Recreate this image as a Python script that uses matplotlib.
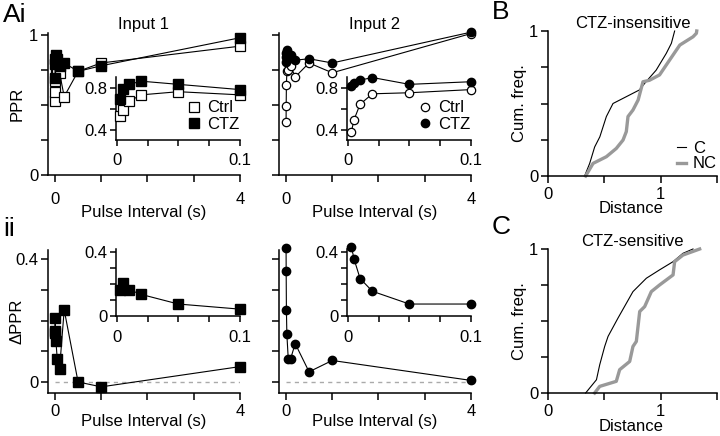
import matplotlib
matplotlib.use("Agg")
import matplotlib.pyplot as plt

plt.rcParams['font.family'] = ['Liberation Sans', 'DejaVu Sans']
plt.rcParams['font.size'] = 12

# pulse intervals (s)
intervals = [0.003, 0.005, 0.01, 0.02, 0.05, 0.1, 0.2, 0.5, 1, 4]

# input 1 (squares)
ppr1_ctrl = [0.53, 0.59, 0.67, 0.73, 0.76, 0.73, 0.56, 0.74, 0.80, 0.92]
ppr1_ctz = [0.69, 0.79, 0.83, 0.86, 0.83, 0.78, 0.80, 0.74, 0.78, 0.98]
dppr1 = [0.16, 0.21, 0.165, 0.135, 0.075, 0.043, 0.235, 0.0, -0.016, 0.05]

# input 2 (circles)
ppr2_ctrl = [0.38, 0.49, 0.64, 0.74, 0.75, 0.78, 0.70, 0.80, 0.73, 1.01]
ppr2_ctz = [0.81, 0.84, 0.87, 0.895, 0.83, 0.855, 0.82, 0.83, 0.80, 1.02]
dppr2 = [0.435, 0.36, 0.235, 0.155, 0.075, 0.075, 0.125, 0.033, 0.07, 0.005]

# cumulative distributions of distance
b_c_x = [0.325, 0.37, 0.414, 0.46, 0.518, 0.577, 0.695, 0.81, 0.87, 0.96, 1.05, 1.095, 1.124]
b_c_y = [0, 0.087, 0.2, 0.27, 0.41, 0.5, 0.547, 0.593, 0.65, 0.73, 0.846, 0.915, 1.0]
b_nc_x = [0.334, 0.4, 0.518, 0.606, 0.666, 0.695, 0.71, 0.754, 0.8, 0.843, 0.9, 0.99, 1.05,
          1.14, 1.17, 1.287, 1.317, 1.32]
b_nc_y = [0, 0.087, 0.133, 0.19, 0.248, 0.306, 0.41, 0.455, 0.524, 0.65, 0.66, 0.697, 0.766,
          0.869, 0.903, 0.96, 0.984, 1.0]
c_c_x = [0.334, 0.43, 0.459, 0.503, 0.533, 0.621, 0.754, 0.873, 0.99, 1.11, 1.198, 1.287]
c_c_y = [0, 0.092, 0.196, 0.323, 0.393, 0.52, 0.704, 0.797, 0.855, 0.912, 0.97, 1.0]
c_nc_x = [0.414, 0.459, 0.606, 0.636, 0.725, 0.754, 0.784, 0.814, 0.858, 0.917, 0.99, 1.11,
          1.124, 1.198, 1.346]
c_nc_y = [0, 0.046, 0.081, 0.162, 0.219, 0.323, 0.358, 0.566, 0.6, 0.704, 0.75, 0.82,
          0.912, 0.958, 1.0]

W, H = 720, 436
fig = plt.figure(figsize=(W / 100, H / 100), dpi=100)


def rect(l, t, r, b):
    return [l / W, 1 - b / H, (r - l) / W, (b - t) / H]


def style(ax, xpad=6, length=5):
    for s in ('top', 'right'):
        ax.spines[s].set_visible(False)
    for s in ('left', 'bottom'):
        ax.spines[s].set_linewidth(1.1)
    ax.tick_params(direction='out', length=length, width=1.1, labelsize=12)
    ax.tick_params(axis='x', pad=xpad)
    ax.tick_params(axis='y', pad=2)
    ax.patch.set_alpha(0)


def main_ppr(ax, ctrl, ctz, marker, ms, labels):
    ax.plot(intervals, ctrl, '-', color='k', lw=0.8, marker=marker, ms=ms,
            mfc='white', mec='k', mew=0.9, clip_on=False, zorder=3)
    ax.plot(intervals, ctz, '-', color='k', lw=0.8, marker=marker, ms=ms,
            mfc='k', mec='k', clip_on=False, zorder=4)
    ax.set_xlim(-0.15, 4)
    ax.set_ylim(0, 1.014)
    ax.set_xticks([0, 1, 2, 3, 4], ['0', '', '', '', '4'])
    ax.set_yticks([0, 0.25, 0.5, 0.75, 1],
                  ['0', '', '', '', '1'] if labels else [''] * 5)
    style(ax, xpad=7)
    ax.set_xlabel('Pulse Interval (s)')
    ax.xaxis.set_label_coords(0.5, -0.21)


def inset_ppr(ax, ctrl, ctz, marker, ms):
    n = 6
    ax.plot(intervals[:n], ctrl[:n], '-', color='k', lw=0.8, marker=marker, ms=ms,
            mfc='white', mec='k', mew=0.9, clip_on=False, zorder=3, label='Ctrl')
    ax.plot(intervals[:n], ctz[:n], '-', color='k', lw=0.8, marker=marker, ms=ms,
            mfc='k', mec='k', clip_on=False, zorder=4, label='CTZ')
    ax.set_xlim(-0.0006, 0.1)
    ax.set_ylim(0.3, 0.9)
    ax.set_xticks([0, 0.025, 0.05, 0.075, 0.1], ['0', '', '', '', '0.1'])
    ax.set_yticks([0.4, 0.6, 0.8], ['0.4', '', '0.8'])
    style(ax, xpad=5.5, length=4)
    leg = ax.legend(loc='lower right', bbox_to_anchor=(1.05, 0.02), frameon=False,
                    handlelength=0.6, handletextpad=0.5, labelspacing=0.1,
                    borderaxespad=0, fontsize=12)
    for ln in leg.get_lines():
        ln.set_linestyle('none')


def main_dppr(ax, d, marker, ms, labels):
    ax.hlines(0, 0, intervals[-1], colors='#aaaaaa', linestyles=(0, (3, 3)), lw=1)
    ax.plot(intervals, d, '-', color='k', lw=0.8, marker=marker, ms=ms,
            mfc='k', mec='k', clip_on=False, zorder=4)
    ax.set_xlim(-0.15, 4)
    ax.set_ylim(-0.036, 0.43)
    ax.set_xticks([0, 1, 2, 3, 4], ['0', '', '', '', '4'])
    ax.set_yticks([0, 0.1, 0.2, 0.3, 0.4],
                  ['0', '', '', '', '0.4'] if labels else [''] * 5)
    style(ax, xpad=3)
    ax.set_xlabel('Pulse Interval (s)')
    ax.xaxis.set_label_coords(0.5, -0.145)


def inset_dppr(ax, d, marker, ms):
    n = 6
    ax.plot(intervals[:n], d[:n], '-', color='k', lw=0.8, marker=marker, ms=ms,
            mfc='k', mec='k', clip_on=False, zorder=4)
    ax.set_xlim(-0.0006, 0.1)
    ax.set_ylim(0, 0.42)
    ax.set_xticks([0, 0.025, 0.05, 0.075, 0.1], ['0', '', '', '', '0.1'])
    ax.set_yticks([0, 0.1, 0.2, 0.3, 0.4], ['0', '', '', '', '0.4'])
    style(ax, xpad=6, length=4)


def cdf(ax, cx, cy, ncx, ncy, title, legend, label_y):
    ax.plot(cx, cy, color='k', lw=0.8, label='C', clip_on=False)
    ax.plot(ncx, ncy, color='#999999', lw=2.4, label='NC', clip_on=False)
    ax.set_xlim(0, 1.5)
    ax.set_ylim(0, 1)
    ax.set_xticks([0, 0.5, 1, 1.5], ['0', '', '1', ''])
    ax.set_yticks([0, 0.25, 0.5, 0.75, 1], ['0', '', '', '', '1'])
    style(ax, xpad=3)
    ax.set_xlabel('Distance')
    ax.xaxis.set_label_coords(0.49, label_y)
    ax.set_ylabel('Cum. freq.')
    ax.yaxis.set_label_coords(-0.125, 0.5)
    ax.set_title(title, fontsize=12, pad=2)
    if legend:
        ax.legend(loc='lower right', bbox_to_anchor=(1.04, -0.014), frameon=False,
                  handlelength=0.55, handletextpad=0.4, labelspacing=0.05,
                  borderaxespad=0, fontsize=12)


a1 = fig.add_axes(rect(48, 33, 240, 175))
main_ppr(a1, ppr1_ctrl, ppr1_ctz, 's', 6.5, True)
a1.set_ylabel('PPR')
a1.yaxis.set_label_coords(-0.12, 0.5)
a1.set_title('Input 1', fontsize=12, pad=3)
a1i = fig.add_axes(rect(116, 77, 240, 140))
inset_ppr(a1i, ppr1_ctrl, ppr1_ctz, 's', 6.5)

a2 = fig.add_axes(rect(279, 33, 471, 175))
main_ppr(a2, ppr2_ctrl, ppr2_ctz, 'o', 6, False)
a2.set_title('Input 2', fontsize=12, pad=3)
a2i = fig.add_axes(rect(347, 77, 471, 140))
inset_ppr(a2i, ppr2_ctrl, ppr2_ctz, 'o', 6)

d1 = fig.add_axes(rect(48, 250, 240, 393))
main_dppr(d1, dppr1, 's', 6.5, True)
d1.set_ylabel('ΔPPR')
d1.yaxis.set_label_coords(-0.12, 0.5)
d1i = fig.add_axes(rect(116, 249, 240, 316))
inset_dppr(d1i, dppr1, 's', 6.5)

d2 = fig.add_axes(rect(279, 250, 471, 393))
main_dppr(d2, dppr2, 'o', 6, False)
d2i = fig.add_axes(rect(347, 249, 471, 316))
inset_dppr(d2i, dppr2, 'o', 6)

pb = fig.add_axes(rect(548, 31, 717, 176))
cdf(pb, b_c_x, b_c_y, b_nc_x, b_nc_y, 'CTZ-insensitive', True, -0.17)
pc = fig.add_axes(rect(548, 249, 717, 393))
cdf(pc, c_c_x, c_c_y, c_nc_x, c_nc_y, 'CTZ-sensitive', False, -0.18)

for txt, x, y in [('Ai', 3, 15), ('ii', 3, 229), ('B', 492, 12), ('C', 492, 227)]:
    fig.text(x / W, 1 - y / H, txt, fontsize=19, ha='left', va='center')

fig.savefig('out.png', dpi=100)
